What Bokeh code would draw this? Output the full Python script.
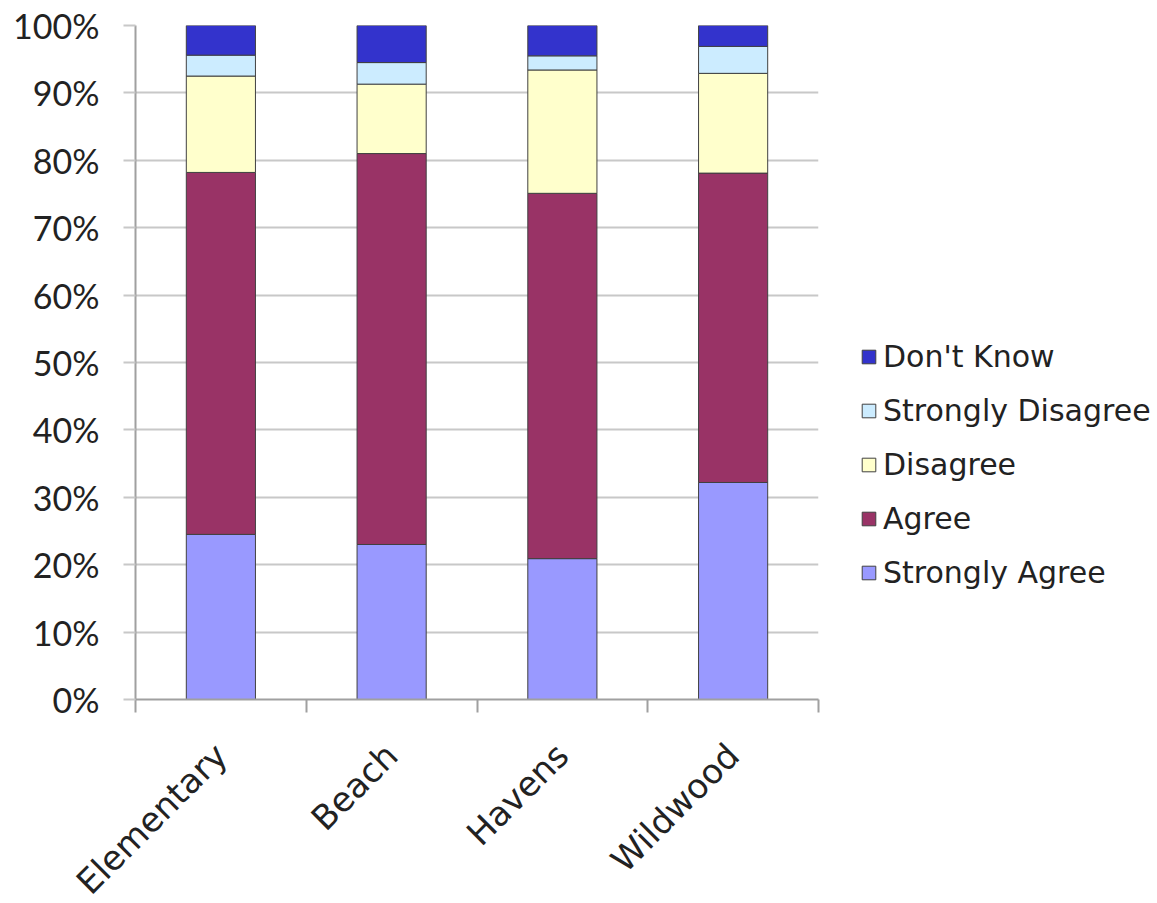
import math
from bokeh.plotting import figure
from bokeh.models import (Legend, LegendItem, FixedTicker, NumeralTickFormatter,
                          Range1d, ColumnDataSource)
from bokeh.embed import file_html
from bokeh.resources import INLINE

categories = ["Elementary", "Beach", "Havens", "Wildwood"]
strongly_agree = [24.5, 23.0, 20.9, 32.2]
agree = [53.7, 58.0, 54.2, 45.9]
disagree = [14.3, 10.3, 18.3, 14.8]
strongly_disagree = [3.1, 3.2, 2.1, 4.0]
dont_know = [4.4, 5.5, 4.5, 3.1]

series_names = ["Strongly Agree", "Agree", "Disagree", "Strongly Disagree", "Don't Know"]
series_values = [strongly_agree, agree, disagree, strongly_disagree, dont_know]
colors = ["#9999FF", "#993366", "#FFFFCC", "#CCECFF", "#3333CC"]

YFONT = "Lato"
FONT = "DejaVu Sans"

data = {"x": [i + 0.5 for i in range(len(categories))]}
keys = []
for i, vals in enumerate(series_values):
    k = f"s{i}"
    keys.append(k)
    data[k] = [v / 100.0 for v in vals]
source = ColumnDataSource(data)

p = figure(frame_width=683, frame_height=674,
           x_range=Range1d(0, 4), y_range=Range1d(0, 1),
           output_backend="svg", toolbar_location=None,
           min_border_left=135, min_border_top=25, min_border_bottom=194,
           min_border_right=4)
p.outline_line_color = None
p.background_fill_color = "white"
p.border_fill_color = "white"

renderers = p.vbar_stack(keys, x="x", width=0.405, color=colors,
                         line_color="#404040", line_width=1, source=source)

items = [LegendItem(label=series_names[i], renderers=[renderers[i]])
         for i in reversed(range(len(series_names)))]
legend = Legend(items=items, location=(42, 109))
legend.label_text_font = FONT
legend.label_text_font_size = "30px"
legend.label_text_color = "#222222"
legend.glyph_width = 17
legend.glyph_height = 17
legend.label_standoff = 6
legend.spacing = 19
legend.label_height = 32
legend.padding = 0
legend.margin = 0
legend.border_line_color = None
legend.background_fill_alpha = 0
p.add_layout(legend, "right")

# Y axis
p.yaxis.ticker = FixedTicker(ticks=[i / 10 for i in range(11)])
p.yaxis.formatter = NumeralTickFormatter(format="0%")
p.yaxis.axis_line_color = "#a0a0a0"
p.yaxis.axis_line_width = 2
p.yaxis.major_tick_out = 12
p.yaxis.major_tick_in = 0
p.yaxis.major_tick_line_color = "#c8c8c8"
p.yaxis.major_tick_line_width = 2
p.yaxis.minor_tick_line_color = None
p.yaxis.major_label_text_font = YFONT
p.yaxis.major_label_text_font_size = "34px"
p.yaxis.major_label_text_color = "#222222"
p.yaxis.major_label_standoff = 24

p.ygrid.grid_line_color = "#c8c8c8"
p.ygrid.grid_line_width = 2
p.xgrid.grid_line_color = None

# X axis
p.xaxis.ticker = FixedTicker(ticks=[i + 0.5 for i in range(len(categories))],
                             minor_ticks=list(range(len(categories) + 1)))
p.xaxis.major_label_overrides = {i + 0.5: c for i, c in enumerate(categories)}
p.xaxis.axis_line_color = "#a0a0a0"
p.xaxis.axis_line_width = 2
p.xaxis.major_tick_out = 0
p.xaxis.major_tick_in = 0
p.xaxis.minor_tick_out = 13
p.xaxis.minor_tick_in = 0
p.xaxis.minor_tick_line_color = "#a0a0a0"
p.xaxis.minor_tick_line_width = 2
p.xaxis.major_label_orientation = math.pi / 4
p.xaxis.major_label_text_font = FONT
p.xaxis.major_label_text_font_size = "34px"
p.xaxis.major_label_text_color = "#222222"
p.xaxis.major_label_standoff = 37

open("out.html", "w").write(file_html(p, INLINE))
